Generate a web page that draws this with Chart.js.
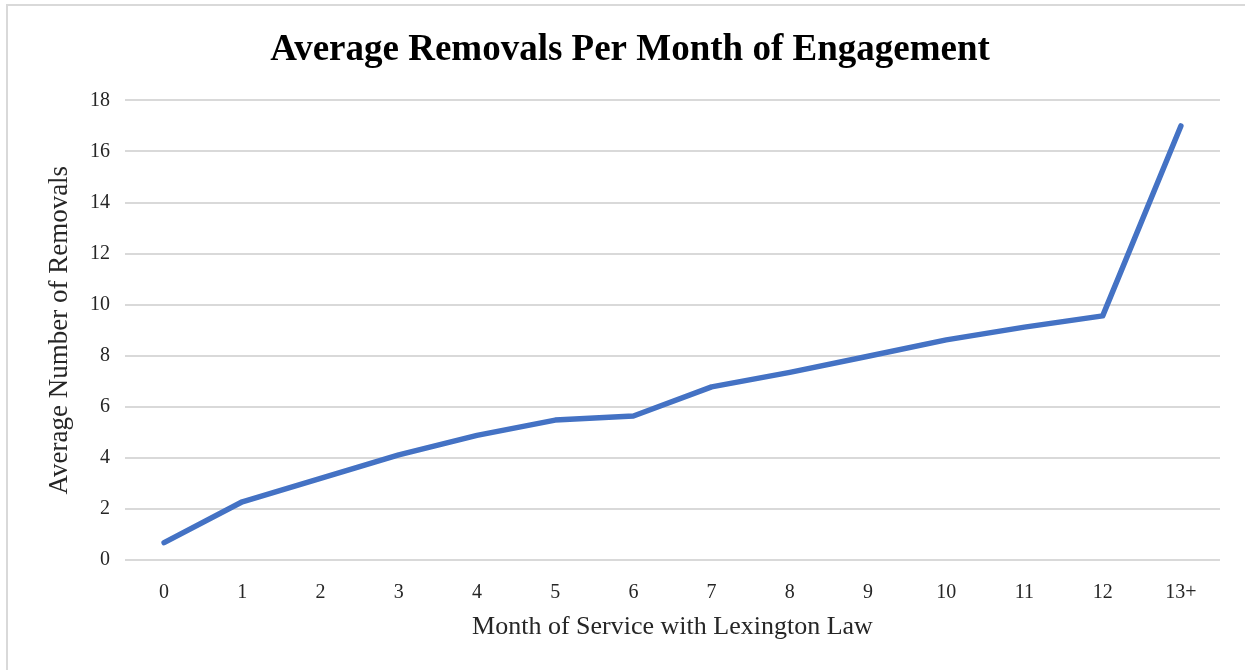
<!DOCTYPE html>
<html>
<head>
<meta charset="utf-8">
<script src="https://cdn.jsdelivr.net/npm/chart.js@4"></script>
<style>
  html, body { margin: 0; padding: 0; background: #fff; overflow: hidden; }
  #wrap { position: absolute; left: 0; top: 0; width: 1245px; height: 670px; overflow: hidden; }
  #frame { position: absolute; left: 6px; top: 4px; width: 1300px; height: 700px; border: 2px solid #d9d9d9; box-sizing: border-box; }
  canvas { position: absolute; left: 0; top: 0; }
</style>
</head>
<body>
<div id="wrap">
  <div id="frame"></div>
  <canvas id="myChart" width="1245" height="670"></canvas>
</div>
<script>
const months = ["0", "1", "2", "3", "4", "5", "6", "7", "8", "9", "10", "11", "12", "13+"];
const avgRemovals = [0.68, 2.28, 3.2, 4.12, 4.88, 5.48, 5.64, 6.78, 7.35, 7.98, 8.62, 9.12, 9.56, 17.0];
const yTicks = [0, 2, 4, 6, 8, 10, 12, 14, 16, 18];

const serif = "'Liberation Serif', 'Times New Roman', serif";

function drawChart() {
  const ctx = document.getElementById("myChart").getContext("2d");

  window.myChartInstance = new Chart(ctx, {
    type: "line",
    data: {
      labels: months,
      datasets: [
        {
          label: "Average Removals",
          data: avgRemovals,
          borderColor: "#4472C4",
          backgroundColor: "#4472C4",
          borderWidth: 5.5,
          borderCapStyle: "round",
          borderJoinStyle: "round",
          pointRadius: 0,
          tension: 0,
        },
      ],
    },
    options: {
      responsive: false,
      animation: false,
      layout: {
        padding: { left: 40, right: 25, top: 18, bottom: 27 },
      },
      plugins: {
        legend: { display: false },
        tooltip: { enabled: false },
        title: {
          display: true,
          text: "Average Removals Per Month of Engagement",
          color: "#000",
          font: { family: serif, size: 37, weight: "bold" },
          padding: { top: 10, bottom: 28 },
        },
      },
      scales: {
        x: {
          offset: true,
          grid: { display: false },
          border: { display: false },
          ticks: {
            color: "#262626",
            font: { family: serif, size: 20 },
            padding: 13,
            maxRotation: 0,
          },
          title: {
            display: true,
            text: "Month of Service with Lexington Law",
            color: "#262626",
            font: { family: serif, size: 26 },
            padding: { top: 0, bottom: 0 },
          },
          afterFit: (scale) => { scale.height = 83; },
        },
        y: {
          min: 0,
          max: 18,
          afterBuildTicks: (scale) => { scale.ticks = yTicks.map((v) => ({ value: v })); },
          grid: { color: "#d9d9d9", lineWidth: 2, drawTicks: false },
          border: { display: false },
          ticks: {
            color: "#262626",
            font: { family: serif, size: 20 },
            padding: 15,
          },
          title: {
            display: true,
            text: "Average Number of Removals",
            color: "#262626",
            font: { family: serif, size: 27 },
            padding: { top: 4, bottom: 0 },
          },
          afterFit: (scale) => { scale.width = 85; },
        },
      },
    },
  });
}

drawChart();
</script>
</body>
</html>
